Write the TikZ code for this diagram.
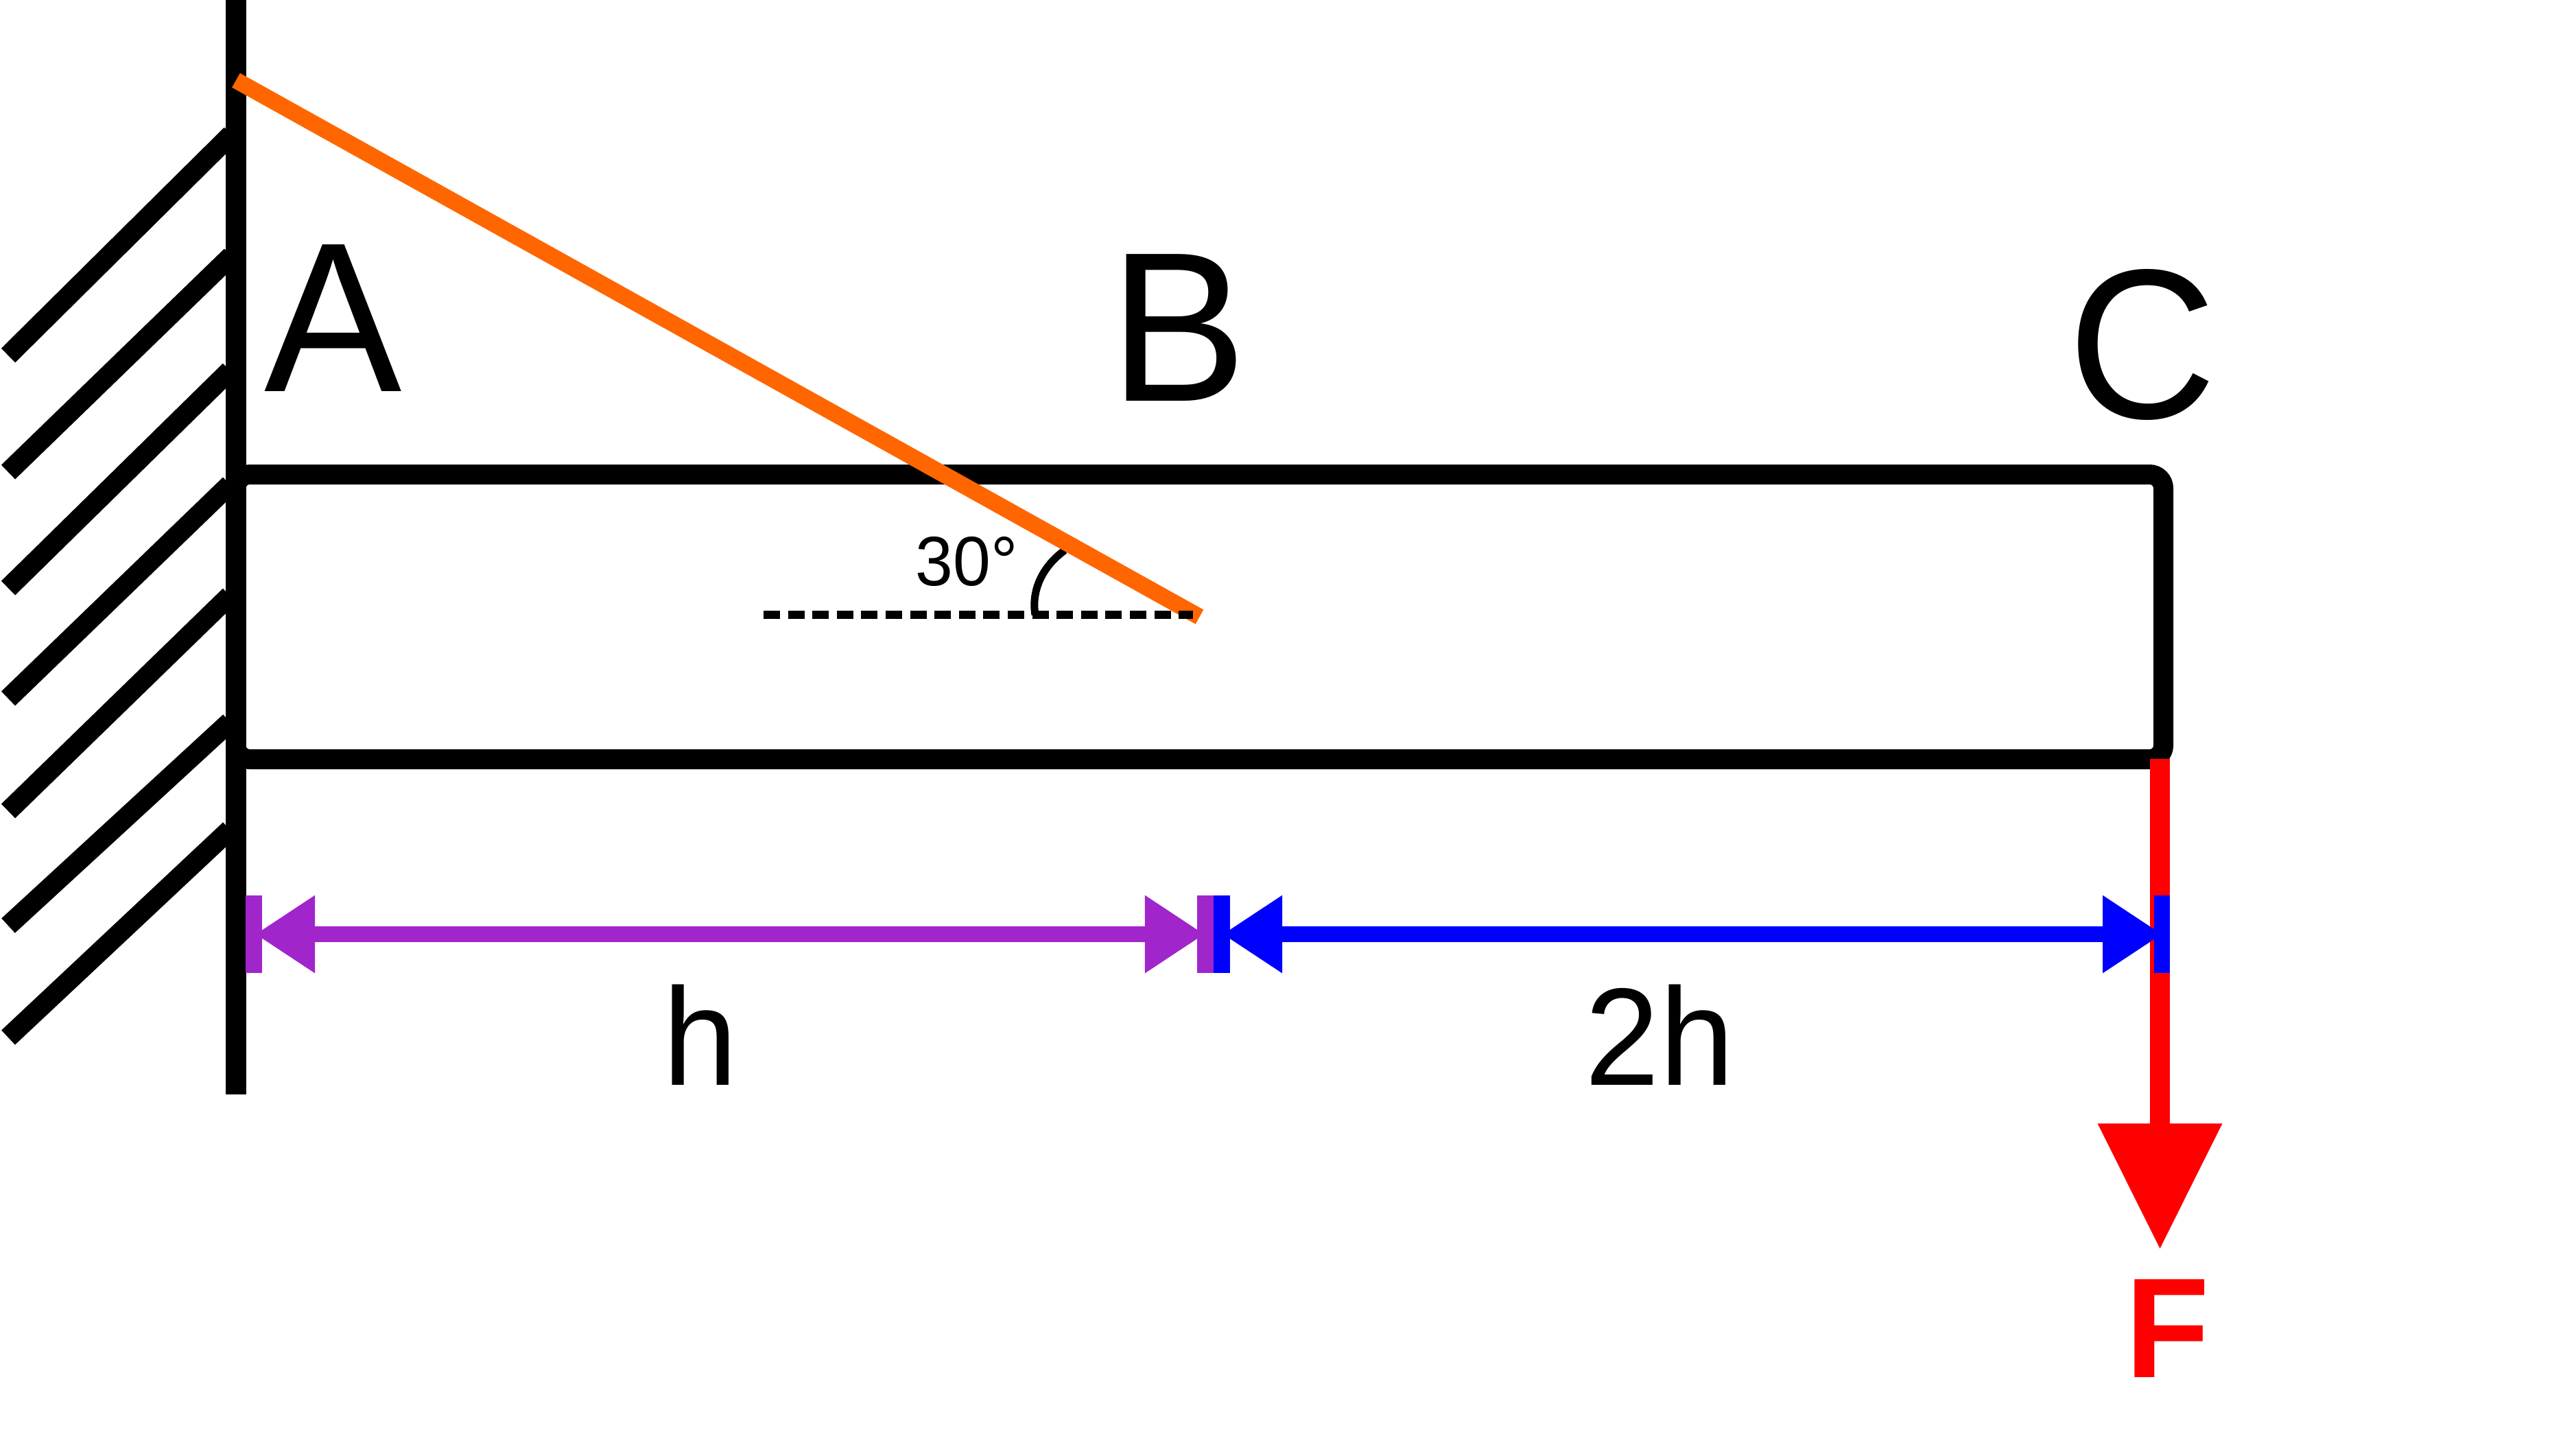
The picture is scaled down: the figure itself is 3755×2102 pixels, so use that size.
\documentclass[tikz,border=0pt]{standalone}
\usepackage{fontspec}
\setmainfont[FakeStretch=0.966]{Liberation Sans}
\usetikzlibrary{arrows.meta}
\usetikzlibrary{calc}
\definecolor{strutcol}{HTML}{FF6600}
\definecolor{hspan}{HTML}{A026CC}
\newlength{\unitpx}
\setlength{\unitpx}{0.01cm}
\begin{document}
\begin{tikzpicture}[x=0.01cm,y=-0.01cm,
        blk/.style={line width=29.5\unitpx,draw=black},
        hatchline/.style={line width=29\unitpx,draw=black},
        dim/.style={line width=23.5\unitpx,{Triangle[length=24.75pt,width=30.5pt]}-{Triangle[length=24.75pt,width=30.5pt]}},
        dimcap/.style={line width=23.5\unitpx},
        bigtext/.style={anchor=base,inner sep=0,font=\fontsize{88.4}{90}\selectfont},
        midtext/.style={anchor=base,inner sep=0,font=\fontsize{57.5}{60}\selectfont}]
        \useasboundingbox (0,0) rectangle (3755,2102);
        % wall and hatching
        \foreach \i/\ya/\xb/\yb in {1/518/337/196,2/688/337/373,3/857/335/540,4/1018/335/706,5/1182/335/868,6/1349/335/1052,7/1512/335/1209} {
          \coordinate (lo\i) at (12,\ya);
          \coordinate (up\i) at (\xb,\yb);
          \draw[hatchline] (lo\i) -- (up\i);
        }
        \coordinate (walltop) at (344,0);
        \coordinate (wallend) at (344,1595);
        \draw[blk] (walltop) -- (wallend);
        % beam
        \node[draw=black,line width=29\unitpx,rounded corners=20\unitpx,inner sep=0,minimum width=2809.5\unitpx,minimum height=415\unitpx] (beam) at (1748.75,899) {};
        % load
        \coordinate (loadtop) at (3148.5,1106);
        \coordinate (loadtip) at (3148.5,1821);
        \draw[red,line width=29.5\unitpx,-{Triangle[length=52.2pt,width=49.3pt]}] (loadtop) -- (loadtip);
        % angle
        \coordinate (dashl) at (1113,896);
        \coordinate (dashr) at (1739,896);
        \coordinate (arcl) at (1509,896);
        \coordinate (arcr) at (1552,802);
        \draw[line width=11\unitpx] (arcl) .. controls (1503,860) and (1520,825) .. (arcr);
        % strut
        \coordinate (strutl) at (344,117);
        \coordinate (strutr) at (1748.5,899);
        \draw[strutcol,line width=24\unitpx] (strutl) -- (strutr);
        \draw[line width=12\unitpx,dash pattern=on 24\unitpx off 11.6\unitpx] (dashl) -- (dashr);
        % dimensions
        \coordinate (ha) at (372,1361.5);
        \coordinate (hb) at (1756,1361.5);
        \coordinate (ka) at (1782,1361.5);
        \coordinate (kb) at (3152,1361.5);
        \draw[hspan,dim] (ha) -- (hb);
        \draw[blue,dim] (ka) -- (kb);
        \foreach \capx/\capcol in {370/hspan,1757/hspan,1781/blue,3151.5/blue} {
          \draw[\capcol,dimcap] (\capx,1304.5) -- (\capx,1418);
        }
        % labels
        \node[bigtext] (ptA) at (486,570) {A};
        \node[bigtext] (ptB) at (1718,584) {B};
        \node[bigtext] (ptC) at (3123,609) {C};
        \node[anchor=base,inner sep=0,font=\fontsize{29}{30}\selectfont] (ang) at (1409,853) {30°};
        \node[midtext] (lenh) at (1021,1581) {h};
        \node[midtext] (lenk) at (2419,1581) {2h};
        \node[midtext,red,font=\fontsize{59}{60}\selectfont\bfseries] (force) at (3160,2007) {F};
      \end{tikzpicture}
\end{document}
